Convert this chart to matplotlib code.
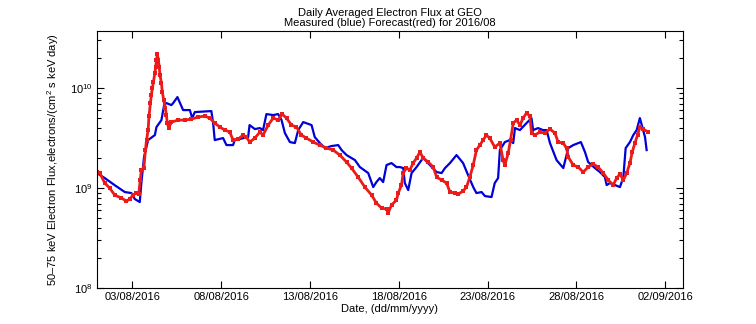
import datetime as dt
import numpy as np
import matplotlib
matplotlib.use('Agg')
import matplotlib.pyplot as plt
import matplotlib.dates as mdates
import matplotlib.ticker as mticker

plt.rcParams['font.family'] = ['Liberation Sans', 'DejaVu Sans']
plt.rcParams['mathtext.fontset'] = 'custom'
plt.rcParams['mathtext.rm'] = 'Liberation Sans'

# Days since 01/08/2016 00:00, log10 of flux
meas_days = [0.0, 0.45, 1.0, 1.58, 1.95, 2.14, 2.42, 2.51, 2.66, 2.89, 3.27, 3.36,
             3.64, 3.79, 3.92, 4.2, 4.3, 4.54, 4.86, 5.24, 5.37, 5.52, 6.45, 6.55,
             6.64, 7.11, 7.3, 7.67, 7.77, 8.52, 8.6, 8.9, 9.18, 9.36, 9.55, 9.93,
             10.21, 10.4, 10.59, 10.87, 11.15, 11.34, 11.62, 12.09, 12.27, 12.56,
             12.84, 13.21, 13.59, 13.78, 14.06, 14.34, 14.53, 14.81, 15.28, 15.56,
             15.74, 15.93, 16.12, 16.31, 16.59, 16.87, 17.06, 17.25, 17.34, 17.53,
             17.72, 18.0, 18.28, 18.38, 18.75, 19.13, 19.41, 19.6, 19.88, 20.25,
             20.62, 20.9, 21.19, 21.37, 21.66, 21.85, 22.22, 22.4, 22.59, 22.69,
             22.97, 23.25, 23.44, 23.54, 23.82, 24.19, 24.47, 24.56, 24.84, 25.12,
             25.32, 25.51, 25.88, 26.26, 26.54, 26.82, 27.25, 27.48, 27.66, 28.04,
             28.32, 28.6, 28.7, 28.89, 29.17, 29.45, 29.64, 29.77, 30.01, 30.2,
             30.39, 30.57, 30.86, 30.95]
meas_log = [9.15, 9.10, 9.03, 8.96, 8.95, 8.89, 8.86, 9.05, 9.31, 9.48, 9.53, 9.61,
            9.68, 9.83, 9.85, 9.83, 9.85, 9.91, 9.78, 9.78, 9.70, 9.76, 9.77, 9.65,
            9.48, 9.50, 9.43, 9.43, 9.48, 9.51, 9.63, 9.59, 9.60, 9.58, 9.74, 9.73,
            9.74, 9.68, 9.55, 9.46, 9.45, 9.58, 9.66, 9.63, 9.51, 9.45,
            9.40, 9.42, 9.43, 9.38, 9.33, 9.30, 9.28, 9.21, 9.15, 9.01,
            9.06, 9.10, 9.06, 9.23, 9.25, 9.21, 9.21, 9.20, 9.05, 8.98,
            9.15, 9.21, 9.28, 9.30, 9.23, 9.16, 9.15, 9.20, 9.25, 9.33,
            9.25, 9.13, 9.01, 8.95, 8.96, 8.92, 8.91, 9.05, 9.10, 9.38,
            9.46, 9.48, 9.45, 9.60, 9.58, 9.65, 9.70, 9.58, 9.60, 9.58,
            9.58, 9.45, 9.28, 9.20, 9.40, 9.43, 9.46, 9.36, 9.26, 9.20,
            9.16, 9.11, 9.03, 9.05, 9.03, 9.01, 9.11, 9.40, 9.46, 9.53,
            9.58, 9.70, 9.51, 9.38]

fcst_days = [0.0, 0.17, 0.45, 0.73, 1.01, 1.39, 1.67, 1.86, 2.04, 2.23, 2.36, 2.45,
             2.51, 2.65, 2.74, 2.8, 2.89, 2.94, 3.02, 3.07, 3.13, 3.19, 3.27, 3.32,
             3.36, 3.41, 3.47, 3.51, 3.56, 3.64, 3.69, 3.77, 3.86, 3.92, 3.97, 4.05,
             4.2, 4.58, 4.95, 5.33, 5.7, 6.08, 6.36, 6.64, 6.93, 7.21, 7.49, 7.67,
             7.95, 8.24, 8.42, 8.61, 8.9, 9.18, 9.36, 9.65, 9.93, 10.21, 10.43,
             10.68, 10.96, 11.24, 11.52, 11.8, 12.18, 12.56, 12.93, 13.31, 13.68,
             14.06, 14.34, 14.71, 15.09, 15.47, 15.74, 16.03, 16.31, 16.4, 16.59,
             16.87, 16.97, 17.15, 17.25, 17.43, 17.62, 17.81, 18.0, 18.19, 18.38,
             18.66, 18.94, 19.13, 19.41, 19.69, 19.88, 20.16, 20.35, 20.62, 20.81,
             21.0, 21.19, 21.37, 21.56, 21.75, 21.93, 22.12, 22.4, 22.69, 22.87,
             22.97, 23.16, 23.29, 23.44, 23.63, 23.82, 24.0, 24.19, 24.38, 24.47,
             24.66, 24.94, 25.22, 25.51, 25.79, 25.97, 26.26, 26.44, 26.54, 26.82,
             27.1, 27.38, 27.66, 27.94, 28.22, 28.51, 28.79, 29.07, 29.26, 29.45,
             29.64, 29.83, 30.01, 30.14, 30.29, 30.44, 30.57, 30.76, 31.04]
fcst_log = [9.16, 9.15, 9.05, 9.00, 8.93, 8.90, 8.87, 8.89, 8.93, 8.95, 8.94, 9.08,
            9.18, 9.20, 9.38, 9.48, 9.58, 9.72, 9.85, 9.93, 10.00, 10.06, 10.15, 10.21,
            10.28, 10.34, 10.28, 10.21, 10.13, 10.05, 9.96, 9.88, 9.80, 9.73, 9.65, 9.60,
            9.66, 9.68, 9.68, 9.69, 9.71, 9.72, 9.70, 9.65, 9.61, 9.58, 9.56, 9.48,
            9.49, 9.53, 9.51, 9.46, 9.50, 9.56, 9.53, 9.63, 9.70, 9.68, 9.74,
            9.70, 9.63, 9.61, 9.53, 9.50, 9.46, 9.43, 9.40, 9.38, 9.33,
            9.26, 9.20, 9.11, 9.01, 8.93, 8.85, 8.80, 8.79, 8.75, 8.83,
            8.88, 8.95, 9.03, 9.15, 9.20, 9.18, 9.25, 9.30, 9.36, 9.30,
            9.26, 9.21, 9.11, 9.08, 9.05, 8.96, 8.95, 8.94, 8.97, 9.01,
            9.11, 9.23, 9.38, 9.43, 9.48, 9.53, 9.50, 9.41, 9.45, 9.28,
            9.23, 9.35, 9.48, 9.65, 9.68, 9.63, 9.70, 9.75, 9.72, 9.55,
            9.53, 9.56, 9.55, 9.59, 9.55, 9.46, 9.45, 9.40, 9.31, 9.23,
            9.21, 9.16, 9.21, 9.24, 9.21, 9.15, 9.08, 9.03, 9.10, 9.14,
            9.08, 9.15, 9.25, 9.36, 9.45, 9.53, 9.61, 9.59, 9.56]

start = mdates.date2num(dt.datetime(2016, 8, 1))
tick_dates = [dt.datetime(2016, 8, 3) + dt.timedelta(days=5 * i) for i in range(7)]

fig = plt.figure(figsize=(7.56, 3.24), dpi=100)
ax = fig.add_axes([0.128, 0.111, 0.7755, 0.793])

ax.plot(start + np.array(meas_days), 10 ** np.array(meas_log), '-',
        color=(0, 0, 0.85), lw=1.6)
ax.plot(start + np.array(fcst_days), 10 ** np.array(fcst_log), '-',
        color=(0.93, 0.1, 0.1), lw=2.0, marker='s', ms=2.2, mew=0)

ax.set_yscale('log')
ax.set_ylim(1e8, 10 ** 10.57)
ax.set_xlim(start, mdates.date2num(dt.datetime(2016, 9, 3)))

ax.set_xticks(mdates.date2num(tick_dates))
ax.xaxis.set_major_formatter(mdates.DateFormatter('%d/%m/%Y'))
ax.yaxis.set_major_locator(mticker.LogLocator(base=10, numticks=10))
ax.yaxis.set_minor_locator(mticker.LogLocator(base=10, subs=np.arange(2, 10), numticks=20))
ax.yaxis.set_minor_formatter(mticker.NullFormatter())

ax.tick_params(which='both', direction='in', top=True, right=True,
               labelsize=8, width=0.8, pad=3)
ax.tick_params(which='major', length=5)
ax.tick_params(which='minor', length=3)
for s in ax.spines.values():
    s.set_linewidth(0.8)

ax.set_title('Daily Averaged Electron Flux at GEO\nMeasured (blue) Forecast(red) for 2016/08',
             fontsize=8, pad=4, linespacing=1.0)
ax.set_xlabel('Date, (dd/mm/yyyy)', fontsize=8, labelpad=1)
ax.set_ylabel('50\u201375 keV Electron Flux,electrons/(cm$^2$ s keV day)',
              fontsize=8, labelpad=6)

fig.savefig('out.png', dpi=100)
